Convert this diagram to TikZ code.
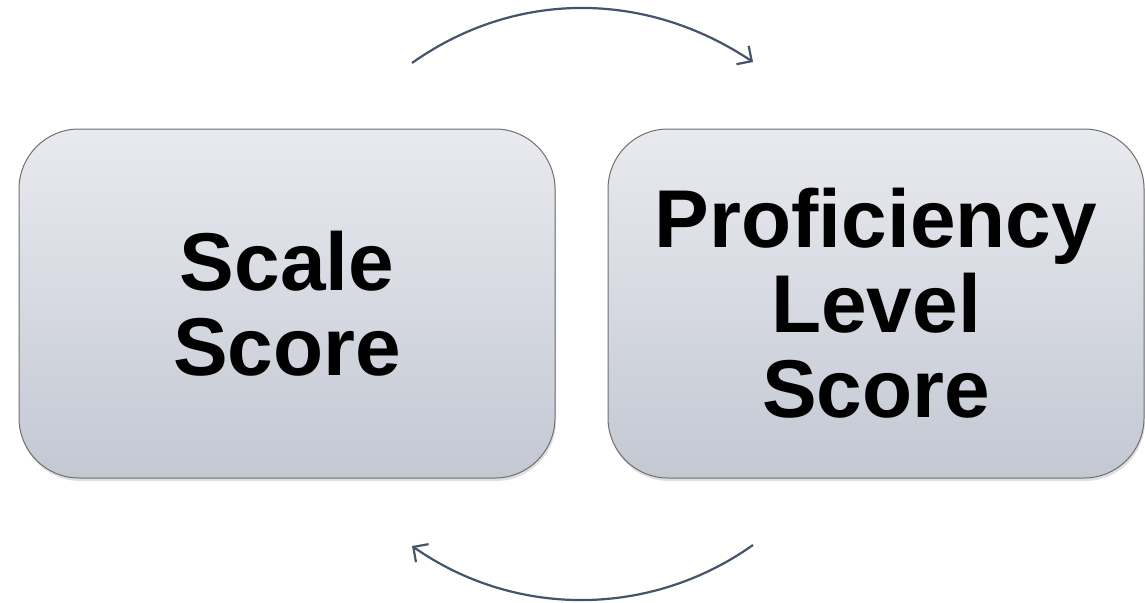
\documentclass[tikz,border=0pt]{standalone}
\usepackage{fontspec}
\setmainfont{Liberation Sans}
\usetikzlibrary{arrows.meta,shadows}

\definecolor{boxtop}{HTML}{E9EAEF}
\definecolor{boxbottom}{HTML}{C3C8D3}
\definecolor{boxline}{HTML}{6F6F6F}
\definecolor{cycleline}{HTML}{44546A}

\tikzset{
	scorebox/.style={draw=boxline, line width=1pt, rounded corners=60pt,
		top color=boxtop, bottom color=boxbottom,
		minimum width=536pt, minimum height=349pt, align=center,
		font=\fontsize{82}{85}\selectfont\bfseries,
		drop shadow={shadow xshift=1pt, shadow yshift=-3pt, opacity=0.25}},
	cyclearrow/.style={draw=cycleline, line width=2.2pt,
		-{Straight Barb[length=11pt, width=22pt, line width=2.2pt]}}
}

\begin{document}
\begin{tikzpicture}[x=1pt, y=-1pt]
				\useasboundingbox[fill=white] (0, 0) rectangle (1145, 602);
				
				% the two score boxes
				\node[scorebox] (scale) at (287, 303.5) {Scale\\Score};
				\node[scorebox] (proficiency) at (876, 303.5) {Proficiency\\Level\\Score};
				
				% ends of the two bent arrows
				\coordinate (topstart) at (412, 63);
				\coordinate (topend) at (753, 62);
				\coordinate (bottomstart) at (753, 545);
				\coordinate (bottomend) at (412, 546);
				
				\draw[cyclearrow] (topstart) .. controls (515, -10) and (645, -10) .. (topend);
				\draw[cyclearrow] (bottomstart) .. controls (650, 618) and (515, 618) .. (bottomend);
			\end{tikzpicture}
\end{document}
